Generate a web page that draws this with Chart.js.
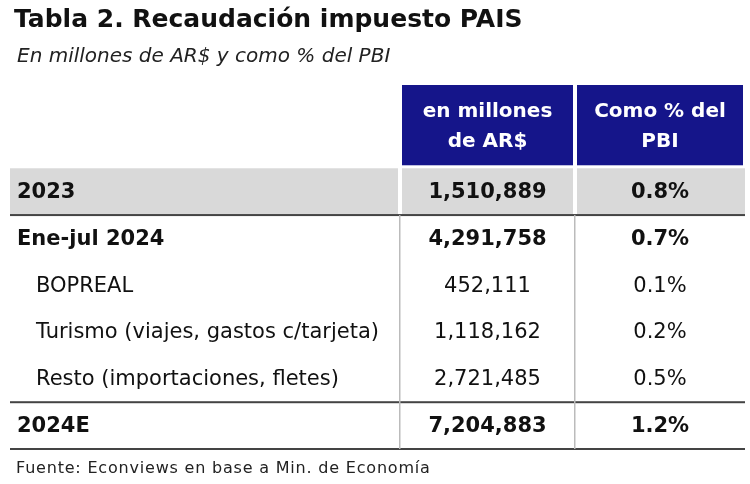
<!DOCTYPE html>
<html><head><meta charset="utf-8">
<script src="https://cdn.jsdelivr.net/npm/chart.js@4"></script>
<style>html,body{margin:0;background:#fff}#w{width:750px;height:484px}</style>
</head><body><div id="w"><canvas id="c"></canvas></div>
<script>
const title = "Tabla 2. Recaudación impuesto PAIS";
const subtitle = "En millones de AR$ y como % del PBI";
const source = "Fuente: Econviews en base a Min. de Economía";
const headers = [["en millones", "de AR$"], ["Como % del", "PBI"]];
const categories = ["2023", "Ene-jul 2024", "BOPREAL", "Turismo (viajes, gastos c/tarjeta)", "Resto (importaciones, fletes)", "2024E"];
const millones = ["1,510,889", "4,291,758", "452,111", "1,118,162", "2,721,485", "7,204,883"];
const pctPBI = ["0.8%", "0.7%", "0.1%", "0.2%", "0.5%", "1.2%"];
const boldRows = [true, true, false, false, false, true];
const indentRows = [false, false, true, true, true, false];

const colEdges = [0, 390, 565, 735];
const HEADER_UNITS = 1.78;
const BLUE = "#15158a";

const tablePlugin = {
  id: "table",
  afterDraw(chart) {
    const ctx = chart.ctx, x = chart.scales.x, y = chart.scales.y;
    const X = v => x.getPixelForValue(v), Y = v => y.getPixelForValue(v);
    ctx.save();
    ctx.textBaseline = "middle";
    ctx.fillStyle = "#111";
    ctx.textAlign = "left";
    ctx.font = "bold 25px 'DejaVu Sans'";
    ctx.fillText(title, 14, 20);
    ctx.font = "italic 20px 'DejaVu Sans'";
    ctx.fillStyle = "#222";
    ctx.fillText(subtitle, 17, 57);
    for (let c = 0; c < 2; c++) {
      const x0 = X(colEdges[c + 1]) + 2, x1 = X(colEdges[c + 2]) - 2;
      ctx.fillStyle = BLUE;
      ctx.fillRect(x0, Y(-HEADER_UNITS), x1 - x0, Y(0) - Y(-HEADER_UNITS) - 3);
      ctx.fillStyle = "#fff";
      ctx.textAlign = "center";
      ctx.font = "bold 20px 'DejaVu Sans'";
      const cy = (Y(-HEADER_UNITS) + Y(0)) / 2;
      ctx.fillText(headers[c][0], (x0 + x1) / 2, cy - 15);
      ctx.fillText(headers[c][1], (x0 + x1) / 2, cy + 15);
    }
    ctx.fillStyle = "#d9d9d9";
    for (let c = 0; c < 3; c++) {
      const x0 = X(colEdges[c]) + (c ? 2 : 0), x1 = X(colEdges[c + 1]) - (c < 2 ? 2 : 0);
      ctx.fillRect(x0, Y(0), x1 - x0, Y(1) - Y(0));
    }
    ctx.fillStyle = "#444";
    [1, 5, 6].forEach(r => ctx.fillRect(X(0), Y(r) - 1, X(735) - X(0), 2));
    ctx.fillStyle = "#bbb";
    [1, 2].forEach(c => ctx.fillRect(X(colEdges[c]) - 1, Y(1), 1.5, Y(6) - Y(1)));
    categories.forEach((cat, i) => {
      const cy = Y(i + 0.5) + 1;
      ctx.fillStyle = "#111";
      ctx.font = (boldRows[i] ? "bold " : "") + "21px 'DejaVu Sans'";
      ctx.textAlign = "left";
      ctx.fillText(cat, X(0) + (indentRows[i] ? 26 : 7), cy);
      ctx.textAlign = "center";
      ctx.fillText(millones[i], (X(colEdges[1]) + X(colEdges[2])) / 2, cy);
      ctx.fillText(pctPBI[i], (X(colEdges[2]) + X(colEdges[3])) / 2, cy);
    });
    ctx.textAlign = "left";
    ctx.font = "16px 'DejaVu Sans'";
    ctx.letterSpacing = "0.8px";
    ctx.fillStyle = "#222";
    ctx.fillText(source, 16, 469);
    ctx.restore();
  }
};

new Chart(document.getElementById("c"), {
  type: "bar",
  data: { labels: categories, datasets: [] },
  options: {
    responsive: true, maintainAspectRatio: false, animation: false,
    layout: { padding: { top: 85, left: 10, right: 5, bottom: 35 } },
    plugins: { legend: { display: false }, tooltip: { enabled: false } },
    scales: {
      x: { type: "linear", min: 0, max: 735, display: false, offset: false },
      y: { type: "linear", min: -HEADER_UNITS, max: categories.length, reverse: true, display: false, offset: false }
    }
  },
  plugins: [tablePlugin]
});
</script></body></html>
